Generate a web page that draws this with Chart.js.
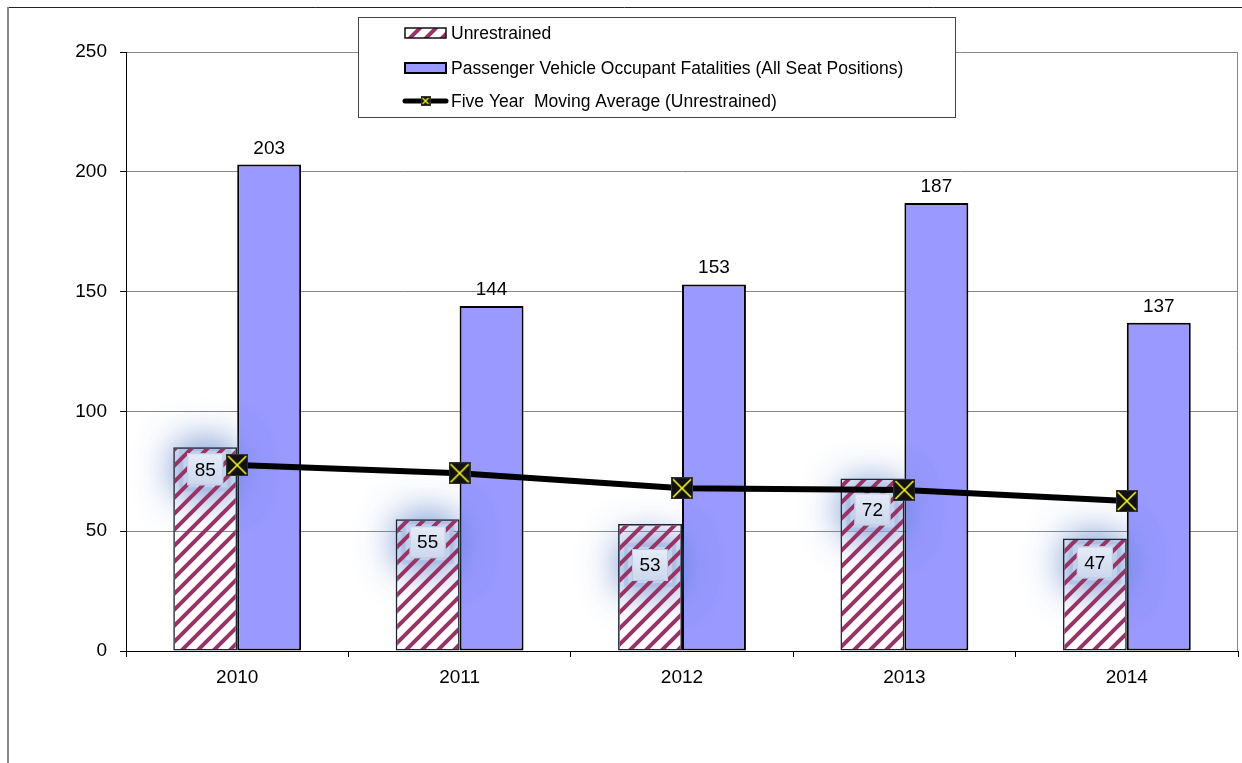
<!DOCTYPE html>
<html>
<head>
<meta charset="utf-8">
<script src="https://cdn.jsdelivr.net/npm/chart.js@4.4.1/dist/chart.umd.min.js"></script>
<style>
  html, body { margin: 0; padding: 0; background: #fff; }
  #wrap { width: 1242px; height: 763px; }
</style>
</head>
<body>
<div id="wrap"><canvas id="myChart" width="1242" height="763"></canvas></div>
<script>
// chart values
var years = ['2010', '2011', '2012', '2013', '2014'];
var unrestrained = [85, 55, 53, 72, 47];
var allSeats = [203, 144, 153, 187, 137];
var movingAvg = [77.6, 74.2, 67.9, 67.2, 62.6];
var yTicks = [0, 50, 100, 150, 200, 250];
var seriesNames = [
	'Unrestrained',
	'Passenger Vehicle Occupant Fatalities (All Seat Positions)',
	'Five Year  Moving Average (Unrestrained)'
];

// how far below the bar top each inside label box sits
var innerLabelDrop = [22, 23, 41, 31, 24];

var FONT = '"Liberation Sans", Arial, sans-serif';
var PLUM = '#993366';
var PERIWINKLE = '#9999FF';

function makeStripes() {
	var s = 16;
	var c = document.createElement('canvas');
	c.width = s; c.height = s;
	var g = c.getContext('2d');
	g.strokeStyle = PLUM;
	g.lineWidth = 4;
	g.beginPath();
	g.moveTo(0, s); g.lineTo(s, 0);
	g.moveTo(-s / 2, s / 2); g.lineTo(s / 2, -s / 2);
	g.moveTo(s / 2, s * 1.5); g.lineTo(s * 1.5, s / 2);
	g.stroke();
	return document.createElement('canvas').getContext('2d').createPattern(c, 'repeat');
}

function makeMarker(size, lw) {
	var c = document.createElement('canvas');
	c.width = size; c.height = size;
	var g = c.getContext('2d');
	g.fillStyle = '#111';
	g.fillRect(0, 0, size, size);
	g.strokeStyle = '#333';
	g.lineWidth = 1;
	g.strokeRect(0.5, 0.5, size - 1, size - 1);
	g.strokeStyle = '#ffff00';
	g.lineWidth = lw;
	g.beginPath();
	g.moveTo(2, 2); g.lineTo(size - 2, size - 2);
	g.moveTo(size - 2, 2); g.lineTo(2, size - 2);
	g.stroke();
	return c;
}

var stripes = makeStripes();
var bigMarker = makeMarker(22, 1.6);
var smallMarker = makeMarker(10, 1.2);

function boxFor(bar, i) {
	var cy = bar.y + innerLabelDrop[i];
	return { x: bar.x - 18, y: cy - 16, w: 36, h: 32, cy: cy };
}

var decorations = {
	id: 'decorations',
	beforeDraw: function(chart) {
		var ctx = chart.ctx;
		ctx.save();
		ctx.fillStyle = '#fff';
		ctx.fillRect(0, 0, chart.width, chart.height);
		// outer frame
		ctx.strokeStyle = '#222';
		ctx.lineWidth = 1;
		ctx.beginPath();
		ctx.moveTo(7, 7.5); ctx.lineTo(chart.width, 7.5);
		ctx.stroke();
		ctx.strokeStyle = '#888';
		ctx.lineWidth = 2;
		ctx.beginPath();
		ctx.moveTo(8, 7); ctx.lineTo(8, chart.height);
		ctx.stroke();
		ctx.restore();
	},
	beforeDatasetsDraw: function(chart) {
		var a = chart.chartArea, ctx = chart.ctx;
		ctx.save();
		ctx.strokeStyle = '#888';
		ctx.lineWidth = 1;
		ctx.beginPath();
		ctx.moveTo(a.right - 0.5, a.top);
		ctx.lineTo(a.right - 0.5, a.bottom);
		ctx.stroke();
		ctx.restore();
	},
	beforeDatasetDraw: function(chart, args) {
		if (args.index !== 0) return;
		var ctx = chart.ctx;
		chart.getDatasetMeta(0).data.forEach(function(bar, i) {
			var b = boxFor(bar, i);
			ctx.save();
			ctx.shadowColor = 'rgba(85,125,200,0.8)';
			ctx.shadowBlur = 42;
			ctx.fillStyle = 'rgba(196,211,236,0.95)';
			ctx.fillRect(b.x - 8, b.y - 6, b.w + 16, b.h + 12);
			ctx.fillRect(b.x - 4, b.y - 2, b.w + 8, b.h + 4);
			ctx.restore();
		});
	},
	afterDatasetsDraw: function(chart) {
		var ctx = chart.ctx;
		ctx.save();
		ctx.font = '19px ' + FONT;
		ctx.textAlign = 'center';
		ctx.fillStyle = '#000';
		chart.getDatasetMeta(1).data.forEach(function(bar, i) {
			ctx.fillText(String(allSeats[i]), bar.x, bar.y - 11);
		});
		chart.getDatasetMeta(0).data.forEach(function(bar, i) {
			var b = boxFor(bar, i);
			var grd = ctx.createLinearGradient(0, b.y, 0, b.y + b.h);
			grd.addColorStop(0, '#e6ecf7');
			grd.addColorStop(1, '#cbd7ee');
			ctx.fillStyle = grd;
			ctx.fillRect(b.x, b.y, b.w, b.h);
			ctx.strokeStyle = '#bccae3';
			ctx.lineWidth = 1;
			ctx.strokeRect(b.x + 0.5, b.y + 0.5, b.w - 1, b.h - 1);
			ctx.fillStyle = '#000';
			ctx.textBaseline = 'middle';
			ctx.fillText(String(unrestrained[i]), bar.x, b.cy + 1);
		});
		ctx.restore();
	},
	afterDraw: function(chart) {
		// legend box
		var ctx = chart.ctx;
		var L = { x: 358, y: 17, w: 598, h: 101 };
		var rows = [33, 68, 101];
		ctx.save();
		ctx.fillStyle = '#fff';
		ctx.fillRect(L.x, L.y, L.w, L.h);
		ctx.strokeStyle = '#444';
		ctx.lineWidth = 1;
		ctx.strokeRect(L.x + 0.5, L.y + 0.5, L.w - 1, L.h - 1);

		ctx.fillStyle = stripes;
		ctx.fillRect(405, rows[0] - 5, 41, 10);
		ctx.strokeStyle = '#111';
		ctx.lineWidth = 1.5;
		ctx.strokeRect(405, rows[0] - 5, 41, 10);

		ctx.fillStyle = PERIWINKLE;
		ctx.fillRect(405, rows[1] - 5, 41, 10);
		ctx.strokeStyle = '#000';
		ctx.lineWidth = 2;
		ctx.strokeRect(405, rows[1] - 5, 41, 10);

		ctx.strokeStyle = '#000';
		ctx.lineWidth = 5;
		ctx.lineCap = 'round';
		ctx.beginPath();
		ctx.moveTo(405, rows[2]); ctx.lineTo(446, rows[2]);
		ctx.stroke();
		ctx.drawImage(smallMarker, 425.5 - 5, rows[2] - 5);

		ctx.fillStyle = '#000';
		ctx.font = '17.5px ' + FONT;
		ctx.textAlign = 'left';
		ctx.textBaseline = 'middle';
		seriesNames.forEach(function(name, i) {
			ctx.fillText(name, 451, rows[i] + 1);
		});
		ctx.restore();
	}
};

var ctx = document.getElementById('myChart').getContext('2d');
var chart = new Chart(ctx, {
	type: 'bar',
	data: {
		labels: years,
		datasets: [
			{
				label: seriesNames[0],
				data: unrestrained,
				backgroundColor: stripes,
				borderColor: '#1c2733',
				borderWidth: 1.5,
				borderSkipped: false,
				categoryPercentage: 0.575,
				barPercentage: 1,
				order: 1
			},
			{
				label: seriesNames[1],
				data: allSeats,
				backgroundColor: PERIWINKLE,
				borderColor: '#000',
				borderWidth: 2,
				borderSkipped: false,
				categoryPercentage: 0.575,
				barPercentage: 1,
				order: 1
			},
			{
				type: 'line',
				label: seriesNames[2],
				data: movingAvg,
				borderColor: '#000',
				borderWidth: 6,
				tension: 0,
				fill: false,
				pointStyle: bigMarker,
				pointRadius: 11,
				order: 0
			}
		]
	},
	options: {
		responsive: false,
		animation: false,
		devicePixelRatio: 1,
		layout: { autoPadding: false, padding: { top: 52, right: 4, left: 0, bottom: 0 } },
		plugins: {
			legend: { display: false },
			tooltip: { enabled: false }
		},
		scales: {
			x: {
				afterFit: function(scale) {
					scale.height = 112;
					scale.paddingLeft = 0;
					scale.paddingRight = 0;
				},
				grid: {
					offset: true,
					drawOnChartArea: false,
					tickLength: 6,
					color: '#000'
				},
				border: { color: '#000', width: 1 },
				ticks: { color: '#000', font: { family: FONT, size: 19 }, padding: 9 }
			},
			y: {
				min: 0,
				max: 250,
				afterFit: function(scale) {
					scale.width = 126;
					scale.paddingTop = 0;
					scale.paddingBottom = 0;
				},
				afterBuildTicks: function(scale) {
					scale.ticks = yTicks.map(function(v) { return { value: v }; });
				},
				grid: {
					color: '#888',
					tickColor: '#000',
					tickLength: 6
				},
				border: { color: '#000', width: 1 },
				ticks: { color: '#000', font: { family: FONT, size: 19 }, padding: 13 }
			}
		}
	},
	plugins: [decorations]
});
</script>
</body>
</html>
